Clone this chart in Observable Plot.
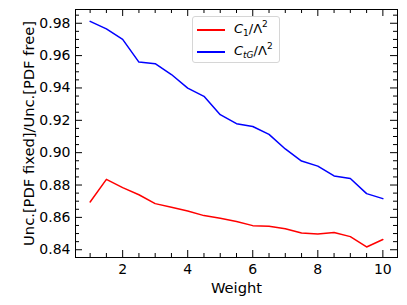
<!DOCTYPE html>
<html><head><meta charset="utf-8">
<script src="https://cdn.jsdelivr.net/npm/d3@7"></script>
<script src="https://cdn.jsdelivr.net/npm/@observablehq/plot@0.6"></script>
<style>
body{margin:0;background:#fff}
#wrap{position:relative;width:407px;height:305px;font-family:"DejaVu Sans",sans-serif}
#legend{position:absolute;left:192px;top:16px;width:88px;height:47px;border:1px solid #d6d6d6;border-radius:3px;background:rgba(255,255,255,0.85);box-sizing:border-box;font-size:13px;color:#000}
.sw{position:absolute;left:4px;width:28px;height:1.5px}
.lt{position:absolute;left:41px;line-height:14px;white-space:nowrap}
.lt sub{font-size:9px;vertical-align:-3px;line-height:0}
.lt sup{font-size:9px;vertical-align:6px;line-height:0}
</style></head>
<body><div id="wrap"></div>
<script>
const weight = [1,1.5,2,2.5,3,3.5,4,4.5,5,5.5,6,6.5,7,7.5,8,8.5,9,9.5,10];
const c1 = [0.8695,0.8835,0.8784,0.8740,0.8685,0.8662,0.8640,0.8611,0.8594,0.8574,0.8549,0.8545,0.8530,0.8503,0.8497,0.8506,0.8481,0.8417,0.8463];
const ctg = [0.9812,0.9765,0.9700,0.9560,0.9550,0.9483,0.9399,0.9348,0.9235,0.9179,0.9162,0.9113,0.9023,0.8948,0.8917,0.8856,0.8840,0.8747,0.8716];
const seriesNames = ["C1/Λ2","CtG/Λ2"];
const seriesColors = ["#ff0000","#0000ff"];
const xMajor = [2,4,6,8,10];
const xMinor = [1,1.5,2.5,3,3.5,4.5,5,5.5,6.5,7,7.5,8.5,9,9.5];
const yMajor = [0.84,0.86,0.88,0.90,0.92,0.94,0.96,0.98];
const yMinor = [0.845,0.85,0.855,0.865,0.87,0.875,0.885,0.89,0.895,0.905,0.91,0.915,0.925,0.93,0.935,0.945,0.95,0.955,0.965,0.97,0.975,0.985];
const xLabel = "Weight";
const yLabel = "Unc.[PDF fixed]/Unc.[PDF free]";

const rows = [];
weight.forEach((w,i)=>{rows.push({w, v:c1[i], s:seriesNames[0]}); rows.push({w, v:ctg[i], s:seriesNames[1]});});

const W=407,H=305,mL=75,mR=10,mT=9,mB=48;
const iw=W-mL-mR, ih=H-mT-mB;
const chart = Plot.plot({
  width:W,height:H,marginLeft:mL,marginRight:mR,marginTop:mT,marginBottom:mB,
  x:{domain:[0.55,10.45]},
  y:{domain:[0.8352,0.9885]},
  color:{domain:seriesNames, range:seriesColors},
  style:{fontFamily:"DejaVu Sans, sans-serif", fontSize:"14px", color:"#000", background:"#fff"},
  marks:[
    Plot.line(rows,{x:"w",y:"v",stroke:"s",z:"s",strokeWidth:1.5}),
    Plot.frame({stroke:"#000",strokeWidth:1}),
    Plot.ruleX(xMajor,{x:d=>d,insetTop:ih-7,stroke:"#000"}),
    Plot.ruleX(xMajor,{x:d=>d,insetBottom:ih-7,stroke:"#000"}),
    Plot.ruleX(xMinor,{x:d=>d,insetTop:ih-4,stroke:"#000"}),
    Plot.ruleX(xMinor,{x:d=>d,insetBottom:ih-4,stroke:"#000"}),
    Plot.ruleY(yMajor,{y:d=>d,insetRight:iw-7,stroke:"#000"}),
    Plot.ruleY(yMajor,{y:d=>d,insetLeft:iw-7,stroke:"#000"}),
    Plot.ruleY(yMinor,{y:d=>d,insetRight:iw-4,stroke:"#000"}),
    Plot.ruleY(yMinor,{y:d=>d,insetLeft:iw-4,stroke:"#000"}),
    Plot.axisX({ticks:xMajor,tickSize:0,tickPadding:6.5,label:null,fontSize:14,tickFormat:d=>String(d)}),
    Plot.axisY({ticks:yMajor,tickSize:0,tickPadding:5,label:null,fontSize:14,tickFormat:d3.format(".2f")}),
    Plot.text([xLabel],{text:d=>d,frameAnchor:"bottom",dy:35,lineAnchor:"bottom",fontSize:14.7,fill:"#000"}),
    Plot.text([yLabel],{text:d=>d,frameAnchor:"left",textAnchor:"middle",dx:-42,rotate:-90,lineAnchor:"bottom",fontSize:14.7,fill:"#000"})
  ]
});
const wrap=document.getElementById("wrap");
wrap.appendChild(chart);
const leg=document.createElement("div");
leg.id="legend";
leg.innerHTML =
 `<span class="sw" style="top:12px;background:${seriesColors[0]}"></span><span class="lt" style="top:5px"><i>C</i><sub>1</sub>/Λ<sup>2</sup></span>`+
 `<span class="sw" style="top:34px;background:${seriesColors[1]}"></span><span class="lt" style="top:27px"><i>C</i><sub><i>tG</i></sub>/Λ<sup>2</sup></span>`;
wrap.appendChild(leg);
</script>
</body></html>
